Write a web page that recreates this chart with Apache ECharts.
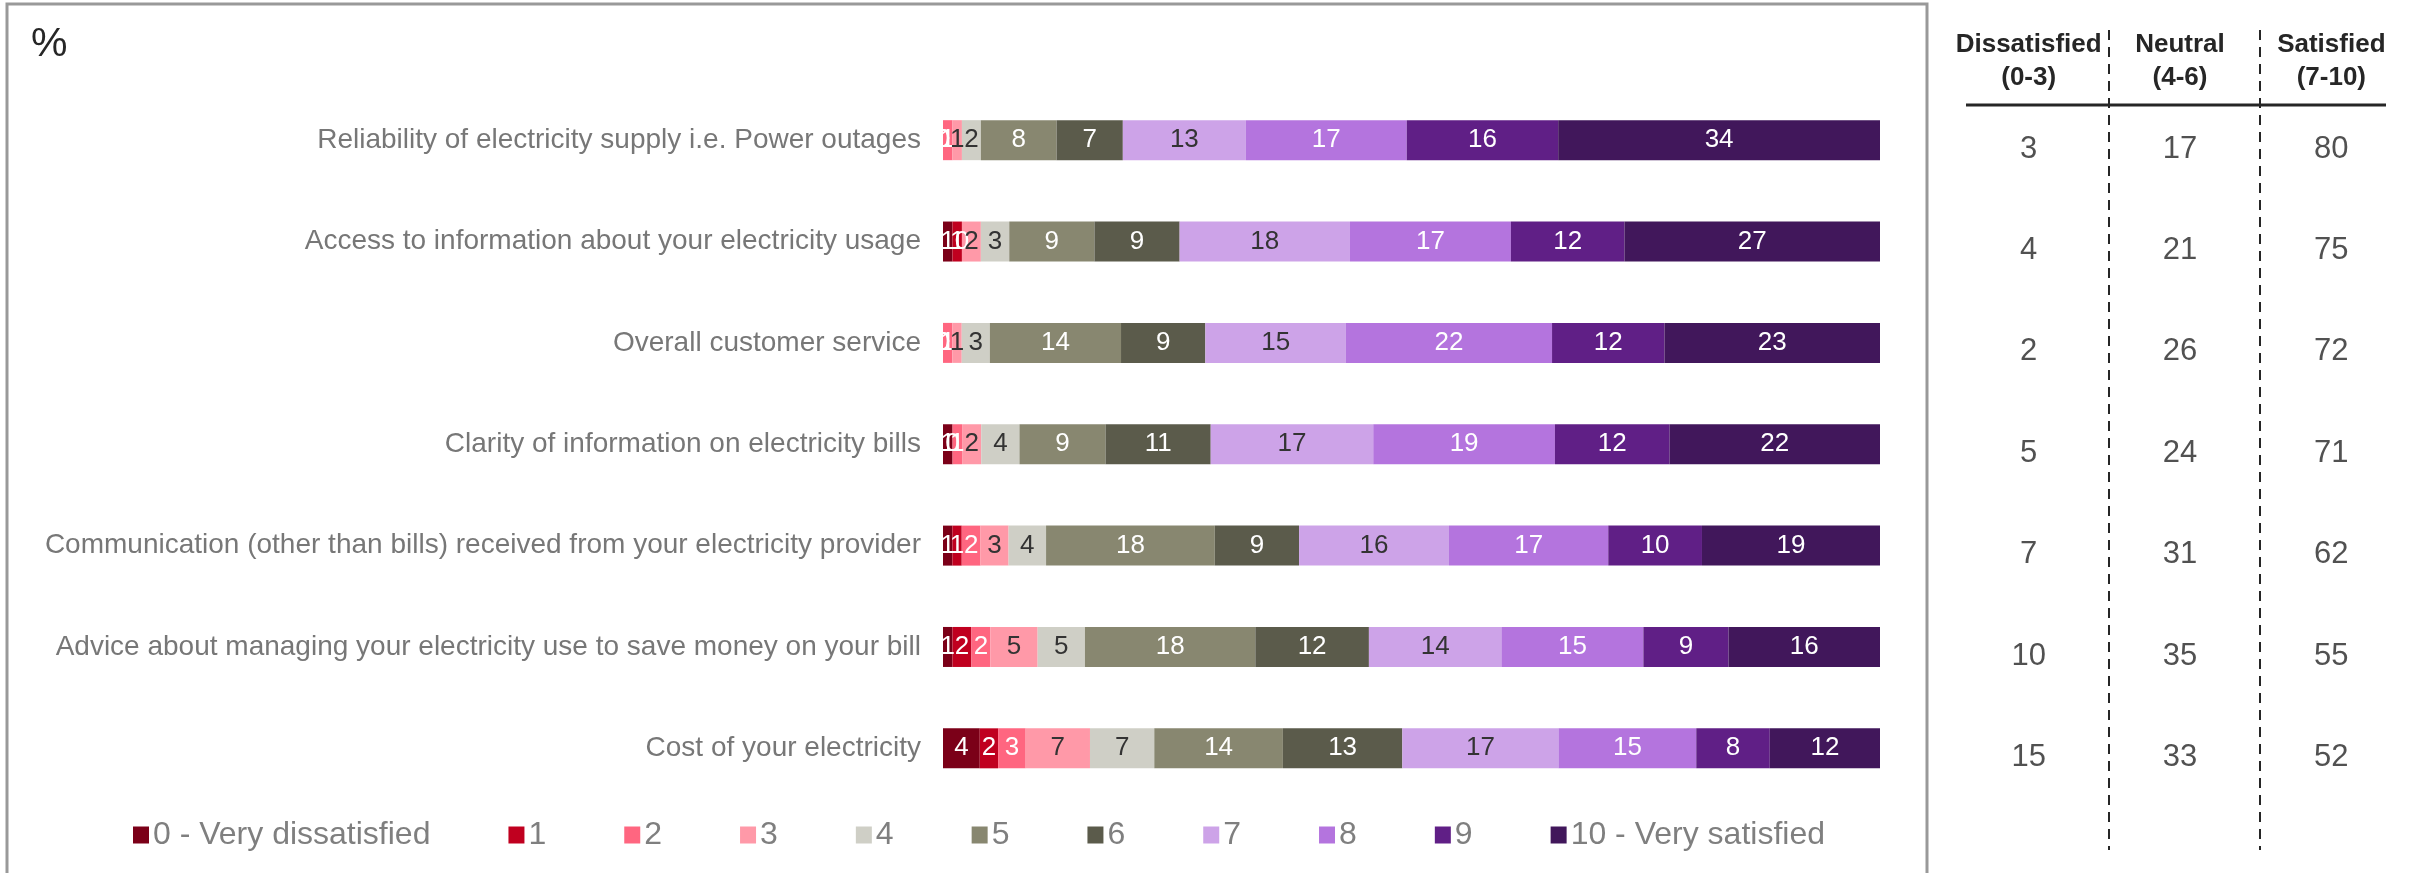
<!DOCTYPE html>
<html>
<head>
<meta charset="utf-8">
<script src="https://cdn.jsdelivr.net/npm/echarts@6/dist/echarts.min.js"></script>
<style>
html,body{margin:0;padding:0;background:#fff;}
#chart{width:2415px;height:873px;}
</style>
</head>
<body>
<div id="chart"></div>
<script>
// ---------- DATA ----------
const categories = [
  'Reliability of electricity supply i.e. Power outages',
  'Access to information about your electricity usage',
  'Overall customer service',
  'Clarity of information on electricity bills',
  'Communication (other than bills) received from your electricity provider',
  'Advice about managing your electricity use to save money on your bill',
  'Cost of your electricity'
];
const scoreNames = ['0 - Very dissatisfied','1','2','3','4','5','6','7','8','9','10 - Very satisfied'];
// one array per score, values per category (%)
const score0  = [0, 1, 0, 1, 1, 1, 4];
const score1  = [0, 1, 0, 0, 1, 2, 2];
const score2  = [1, 0, 1, 1, 2, 2, 3];
const score3  = [1, 2, 1, 2, 3, 5, 7];
const score4  = [2, 3, 3, 4, 4, 5, 7];
const score5  = [8, 9, 14, 9, 18, 18, 14];
const score6  = [7, 9, 9, 11, 9, 12, 13];
const score7  = [13, 18, 15, 17, 16, 14, 17];
const score8  = [17, 17, 22, 19, 17, 15, 15];
const score9  = [16, 12, 12, 12, 10, 9, 8];
const score10 = [34, 27, 23, 22, 19, 16, 12];
// summary table
const tableHeaders = ['Dissatisfied\n(0-3)', 'Neutral\n(4-6)', 'Satisfied\n(7-10)'];
const dissatisfied = [3, 4, 2, 5, 7, 10, 15];
const neutral      = [17, 21, 26, 24, 31, 35, 33];
const satisfied    = [80, 75, 72, 71, 62, 55, 52];

// ---------- STYLE ----------
const colors = ['#7b0018','#c0001f','#ff6680','#ff99a8','#cfcfc6','#888770','#5b5b4b','#cda3e8','#b474de','#601f86','#41175b'];
const labelColors = ['#fff','#fff','#fff','#333','#333','#fff','#fff','#333','#fff','#fff','#fff'];
const FONT = "'Liberation Sans', Arial, sans-serif";

const scores = [score0,score1,score2,score3,score4,score5,score6,score7,score8,score9,score10];
const rowTotals = categories.map((c, i) => scores.reduce((s, arr) => s + arr[i], 0));

const barTop = 89.5, barBottom = 74;

const barSeries = scores.map((arr, k) => ({
  name: scoreNames[k],
  type: 'bar',
  stack: 'total',
  xAxisIndex: 0, yAxisIndex: 0,
  barWidth: 40,
  itemStyle: { color: colors[k] },
  label: {
    show: true,
    position: 'inside',
    color: labelColors[k],
    fontSize: 26,
    fontFamily: FONT,
    formatter: p => String(arr[p.dataIndex])
  },
  emphasis: { disabled: true },
  data: arr.map((v, i) => v / rowTotals[i] * 100)
}));

const tableCols = [dissatisfied, neutral, satisfied];
const tableData = [];
tableCols.forEach((col, c) => col.forEach((v, r) => tableData.push([c, r, v])));

const option = {
  backgroundColor: '#fff',
  animation: false,
  textStyle: { fontFamily: FONT },
  grid: [
    { left: 943, right: 2415 - 1880, top: barTop, bottom: barBottom },
    { left: 1953, right: 2415 - 2407, top: barTop, bottom: barBottom }
  ],
  xAxis: [
    { type: 'value', gridIndex: 0, min: 0, max: 100, show: false },
    { type: 'category', gridIndex: 1, data: tableHeaders, position: 'top', offset: -15.5,
      axisLine: { show: false }, axisTick: { show: false }, splitLine: { show: false },
      axisLabel: { show: true, margin: 11, fontSize: 26, fontWeight: 'bold', color: '#262626',
        lineHeight: 33, fontFamily: FONT, interval: 0 } }
  ],
  yAxis: [
    { type: 'category', gridIndex: 0, data: categories, inverse: true,
      axisLine: { show: false }, axisTick: { show: false },
      axisLabel: { margin: 22, fontSize: 28, color: '#777777', fontFamily: FONT, padding: [10, 0, 0, 0] } },
    { type: 'category', gridIndex: 1, data: categories, inverse: true, show: false }
  ],
  legend: {
    left: 133, top: 819, padding: 0,
    icon: 'rect', itemWidth: 16, itemHeight: 17, itemGap: 78,
    selectedMode: false,
    textStyle: { fontSize: 32, color: '#7f7f7f', fontFamily: FONT, padding: [0, 0, 0, -1] },
    data: scoreNames
  },
  series: barSeries.concat([{
    type: 'scatter',
    xAxisIndex: 1, yAxisIndex: 1,
    symbolSize: 0,
    data: tableData,
    label: { show: true, position: 'inside', offset: [0, 9], fontSize: 31, color: '#262626',
      fontFamily: FONT, formatter: p => String(p.value[2]) },
    emphasis: { disabled: true }
  }]),
  graphic: [
    { type: 'rect', shape: { x: 7, y: 4, width: 1920, height: 900 },
      style: { fill: null, stroke: '#999999', lineWidth: 3 }, silent: true },
    { type: 'text', left: 31, top: 24,
      style: { text: '%', font: '41px ' + FONT, fill: '#262626' } },
    { type: 'line', shape: { x1: 1966, y1: 105, x2: 2386, y2: 105 },
      style: { stroke: '#262626', lineWidth: 3 } },
    { type: 'line', shape: { x1: 2109, y1: 30, x2: 2109, y2: 850 },
      style: { stroke: '#262626', lineWidth: 2, lineDash: [10, 7] } },
    { type: 'line', shape: { x1: 2260, y1: 30, x2: 2260, y2: 850 },
      style: { stroke: '#262626', lineWidth: 2, lineDash: [10, 7] } }
  ]
};

const chart = echarts.init(document.getElementById('chart'), null, { renderer: 'canvas' });
chart.setOption(option);
</script>
</body>
</html>
